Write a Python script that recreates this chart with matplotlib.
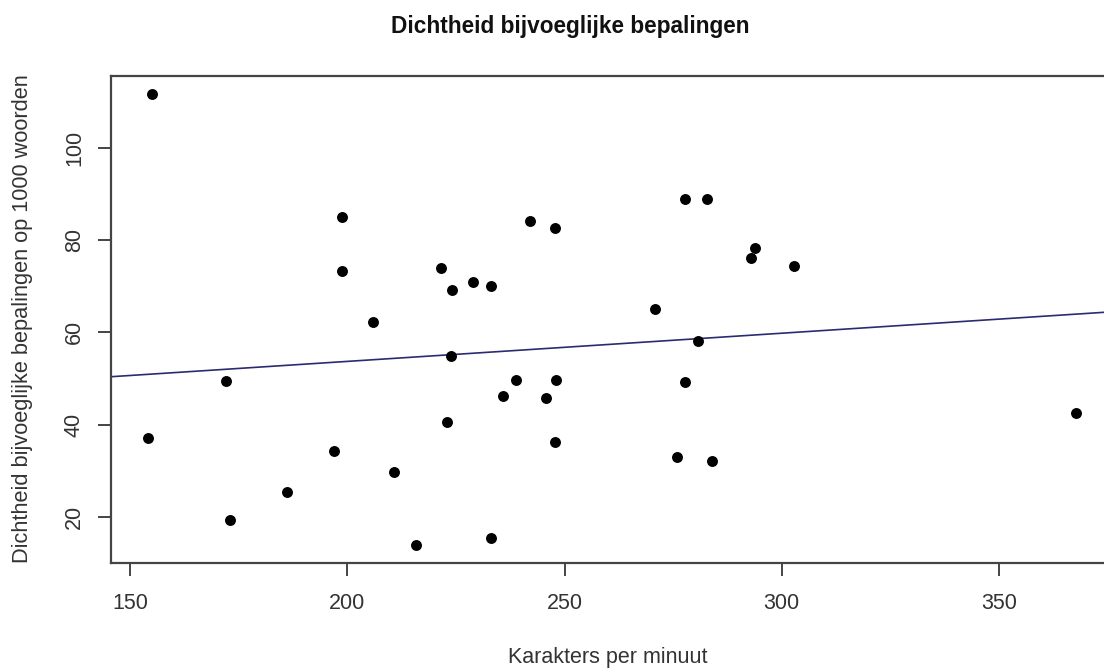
import numpy as np
import matplotlib.pyplot as plt

plt.rcParams['font.family'] = ['Liberation Sans', 'DejaVu Sans']

# characters per minute vs. density of adjectival modifiers per 1000 words
kpm = [155.0, 198.9, 198.9, 221.5, 206.0, 224.0, 228.9, 233.0, 242.0, 247.9,
       270.9, 277.7, 282.7, 293.9, 292.9, 302.9, 154.1, 172.1, 173.0, 186.1,
       197.0, 210.8, 215.9, 223.9, 223.0, 238.9, 235.8, 248.0, 245.7, 247.9,
       233.0, 280.8, 277.7, 275.8, 284.0, 367.8]
dichtheid = [111.6, 85.0, 73.3, 73.9, 62.3, 69.2, 70.9, 70.1, 84.1, 82.6,
             65.1, 88.8, 88.8, 78.3, 76.0, 74.4, 37.0, 49.5, 19.4, 25.3,
             34.3, 29.7, 13.9, 54.8, 40.5, 49.6, 46.1, 49.6, 45.8, 36.1,
             15.3, 58.1, 49.3, 32.9, 32.0, 42.5]

x_ticks = [150, 200, 250, 300, 350]
y_ticks = [20, 40, 60, 80, 100]

x = np.array(kpm)
y = np.array(dichtheid)

# R style 4% padding
def _pad(v):
    r = v.max() - v.min()
    return v.min() - 0.04 * r, v.max() + 0.04 * r

xlim = _pad(x)
ylim = _pad(y)

W, H = 1104, 668
px_x = 4.345   # pixels per x unit
px_y = 4.6125  # pixels per y unit
left = 130 - (150 - xlim[0]) * px_x
bottom_px = 609 - ylim[0] * px_y
width = (xlim[1] - xlim[0]) * px_x
height = (ylim[1] - ylim[0]) * px_y

fig = plt.figure(figsize=(W / 100, H / 100), dpi=100)
ax = fig.add_axes([left / W, (H - bottom_px) / H, width / W, height / H])

ax.scatter(x, y, s=62, color='black', zorder=3, linewidths=0)

b, a = np.polyfit(x, y, 1)
xx = np.array(xlim)
ax.plot(xx, a + b * xx, color='#2b2b72', lw=1.2, zorder=2)

ax.set_xlim(xlim)
ax.set_ylim(ylim)
ax.set_xticks(x_ticks)
ax.set_yticks(y_ticks)

frame = '#444444'
for side in ['left', 'bottom', 'top', 'right']:
    ax.spines[side].set_color(frame)
    ax.spines[side].set_linewidth(1.6)

ax.tick_params(axis='both', length=9.5, width=1.4, color=frame,
               labelsize=15.5, labelcolor='#333333')
ax.tick_params(axis='x', pad=12)
ax.tick_params(axis='y', pad=9)
for lab in ax.get_yticklabels():
    lab.set_rotation(90)
    lab.set_va('center')
    lab.set_ha('right')

fig.text(570 / W, (H - 27) / H, 'Dichtheid bijvoeglijke bepalingen',
         ha='center', va='center', fontsize=16.3, fontweight='bold', color='#111111')
fig.text(608 / W, (H - 658) / H, 'Karakters per minuut',
         ha='center', va='center', fontsize=15.5, color='#333333')
fig.text(23 / W, (H - 319) / H, 'Dichtheid bijvoeglijke bepalingen op 1000 woorden',
         ha='center', va='center', rotation=90, fontsize=15.7, color='#333333')

fig.savefig('out.png', dpi=100)
